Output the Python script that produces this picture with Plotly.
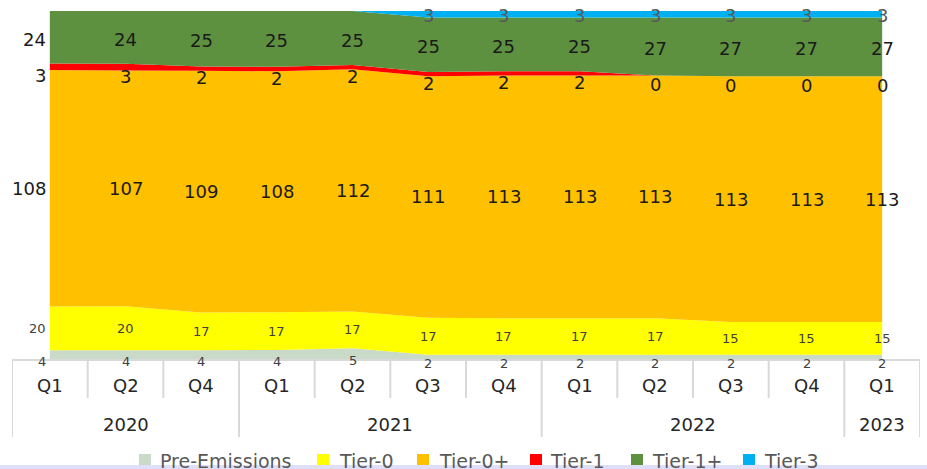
import numpy as np
import plotly.graph_objects as go

# Categories (two-level axis: quarter within year)
quarters = ["Q1", "Q2", "Q4", "Q1", "Q2", "Q3", "Q4", "Q1", "Q2", "Q3", "Q4", "Q1"]
years = ["2020", "2020", "2020", "2021", "2021", "2021", "2021",
         "2022", "2022", "2022", "2022", "2023"]

# Series values (None = no value recorded)
pre_emissions = [4, 4, 4, 4, 5, 2, 2, 2, 2, 2, 2, 2]
tier_0 = [20, 20, 17, 17, 17, 17, 17, 17, 17, 15, 15, 15]
tier_0_plus = [108, 107, 109, 108, 112, 111, 113, 113, 113, 113, 113, 113]
tier_1 = [3, 3, 2, 2, 2, 2, 2, 2, 0, 0, 0, 0]
tier_1_plus = [24, 24, 25, 25, 25, 25, 25, 25, 27, 27, 27, 27]
tier_3 = [None, None, None, None, None, 3, 3, 3, 3, 3, 3, 3]

series = [
    ("Pre-Emissions", pre_emissions, "#C9DBC8"),
    ("Tier-0", tier_0, "#FFFF00"),
    ("Tier-0+", tier_0_plus, "#FFC000"),
    ("Tier-1", tier_1, "#FF0000"),
    ("Tier-1+", tier_1_plus, "#5D9140"),
    ("Tier-3", tier_3, "#00B0F0"),
]

# label style per series: (font size, colour, vertical nudge in px, up = positive)
label_style = {
    "Pre-Emissions": (13, "#404040", -7),
    "Tier-0": (13, "#404040", 0),
    "Tier-0+": (18, "#1a1a1a", 0),
    "Tier-1": (18, "#1a1a1a", -9),
    "Tier-1+": (18, "#1a1a1a", -2),
    "Tier-3": (18, "#595959", -1),
}

FONT = "DejaVu Sans"
W, H = 927, 469
ML, MR, MT, MB = 12, 7, 11, 110
plot_w = W - ML - MR
plot_h = H - MT - MB

x = np.arange(len(quarters))
vals = np.array([[0 if v is None else v for v in s[1]] for s in series], dtype=float)
totals = vals.sum(axis=0)
cum = np.cumsum(vals, axis=0)

fig = go.Figure()

# 100% stacked areas
for name, data, color in series:
    fig.add_trace(go.Scatter(
        x=x, y=[0 if v is None else v for v in data],
        name=name, mode="none", stackgroup="one", groupnorm="percent",
        fillcolor=color, hoverinfo="skip", showlegend=False,
    ))

shapes = []
annotations = []

# value labels at the middle of each band
for k, (name, data, color) in enumerate(series):
    size, fcol, nudge = label_style[name]
    mid = (cum[k] - vals[k] / 2) / totals * 100
    for i, v in enumerate(data):
        if v is None:
            continue
        first = i == 0
        annotations.append(dict(
            x=int(x[i]), y=float(mid[i]), xref="x", yref="y", text=str(v),
            showarrow=False, yanchor="middle",
            xanchor="right" if first else "center", xshift=-2 if first else 0,
            yshift=nudge, font=dict(family=FONT, size=size, color=fcol),
        ))

grid = "#D9D9D9"

# top border of the category table
shapes.append(dict(type="line", xref="x", yref="paper", x0=-0.5, x1=len(x) - 0.5,
                   ysizemode="pixel", yanchor=0, y0=-1, y1=-1,
                   line=dict(color=grid, width=2)))

# separators between quarters / years
for b in range(len(x) + 1):
    is_year_edge = b == 0 or b == len(x) or years[b] != years[b - 1]
    depth = 78 if is_year_edge else 39
    shapes.append(dict(type="line", xref="x", yref="paper", x0=b - 0.5, x1=b - 0.5,
                       ysizemode="pixel", yanchor=0, y0=-1, y1=-depth,
                       line=dict(color=grid, width=2)))

# quarter labels
for i, q in enumerate(quarters):
    annotations.append(dict(x=i, y=0, xref="x", yref="paper", text=q, showarrow=False,
                            yanchor="middle", yshift=-26,
                            font=dict(family=FONT, size=18, color="#262626")))

# year labels centred on their quarters
seen = []
for yv in years:
    if yv not in seen:
        seen.append(yv)
for yv in seen:
    idx = [i for i, v in enumerate(years) if v == yv]
    annotations.append(dict(x=float(np.mean(idx)), y=0, xref="x", yref="paper", text=yv,
                            showarrow=False, yanchor="middle", yshift=-65,
                            font=dict(family=FONT, size=18, color="#262626")))


def px_x(p):
    return (p - ML) / plot_w


def px_y(p):
    return (H - MB - p) / plot_h


# legend row along the bottom
legend_sq = [139, 317, 417, 530, 631, 743]
legend_tx = [158, 337, 437, 548, 650, 762]
for (name, _, color), sx, tx in zip(series, legend_sq, legend_tx):
    shapes.append(dict(type="rect", xref="paper", yref="paper",
                       x0=px_x(sx), x1=px_x(sx + 12), y0=px_y(454), y1=px_y(466),
                       fillcolor=color, line=dict(width=0)))
    annotations.append(dict(x=px_x(tx), y=px_y(461), xref="paper", yref="paper",
                            text=name, showarrow=False, xanchor="left", yanchor="middle",
                            font=dict(family=FONT, size=19, color="#595959")))

# window frame strip at the very bottom
shapes.append(dict(type="rect", xref="paper", yref="paper", layer="above",
                   x0=px_x(0), x1=px_x(W), y0=px_y(465), y1=px_y(H + 2),
                   fillcolor="#DFE0F8", line=dict(width=0)))

fig.update_layout(
    width=W, height=H,
    margin=dict(l=ML, r=MR, t=MT, b=MB),
    paper_bgcolor="white", plot_bgcolor="white",
    xaxis=dict(range=[-0.5, len(x) - 0.5], showgrid=False, zeroline=False,
               showticklabels=False, ticks="", showline=False, fixedrange=True),
    yaxis=dict(range=[0, 100], showgrid=False, zeroline=False,
               showticklabels=False, ticks="", showline=False, fixedrange=True),
    shapes=shapes, annotations=annotations, showlegend=False,
)

fig.write_html("out.html")
